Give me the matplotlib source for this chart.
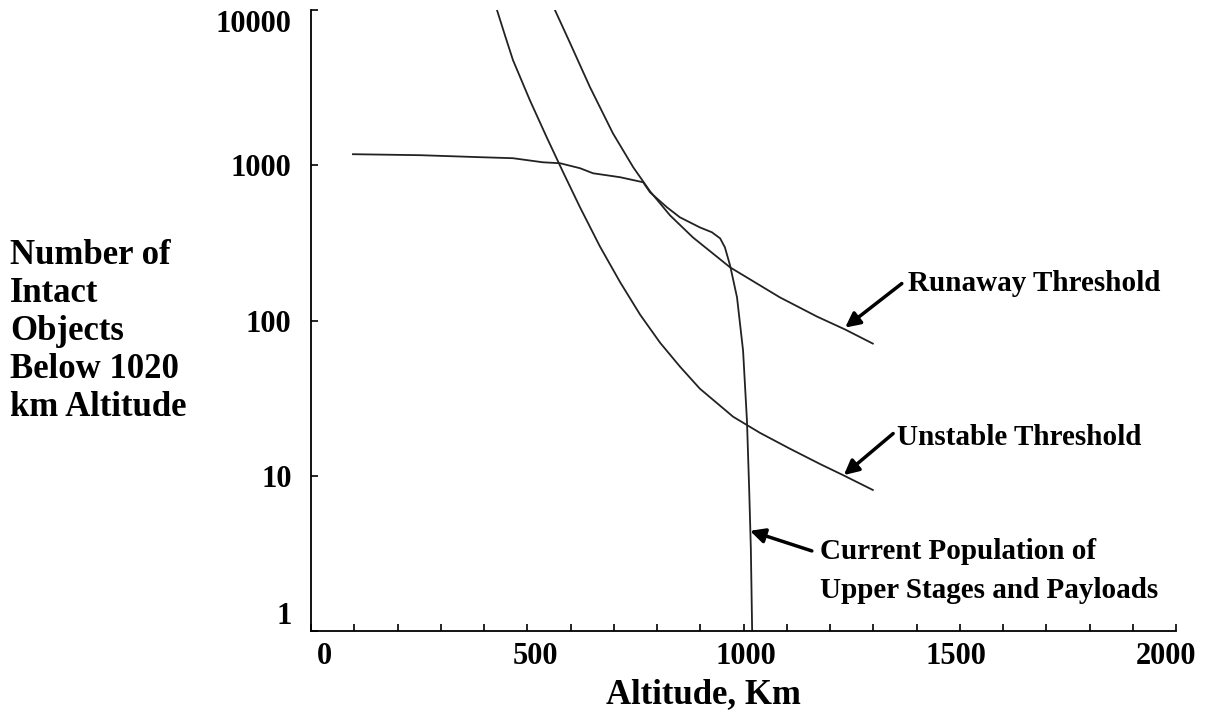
"""
Intact objects below 1020 km vs altitude, with runaway/unstable thresholds
"""

import matplotlib
matplotlib.use("Agg")
import matplotlib.pyplot as plt
from matplotlib.ticker import FixedLocator, MultipleLocator, NullFormatter

# current population of upper stages and payloads (km, count)
pop_alt = [97, 252, 391, 467, 536, 576, 622, 652, 715, 768, 784, 823, 853,
           899, 927, 946, 957, 969, 985, 999, 1008, 1013, 1017, 1020]
pop_num = [1178, 1161, 1127, 1110, 1045, 1030, 957, 888, 837, 777, 669, 536,
           462, 398, 370, 338, 296, 226, 141, 64, 22.6, 8.4, 3.4, 1.0]

# unstable threshold
uns_alt = [430, 449, 467, 506, 546, 583, 622, 668, 715, 761, 807, 853, 899,
           976, 1038, 1108, 1177, 1230, 1299]
uns_num = [10000, 6795, 4755, 2626, 1493, 901, 536, 300, 176, 109, 72, 50.5,
           36.4, 24.0, 18.9, 14.9, 11.9, 10.1, 8.1]

# runaway threshold
run_alt = [564, 599, 645, 698, 745, 784, 830, 883, 969, 1084, 1170, 1235, 1299]
run_num = [10000, 6124, 3186, 1607, 971, 679, 476, 343, 220, 141, 106, 87.5, 71]

x_ticks = [0, 500, 1000, 1500, 2000]
x_tick_labels = ["0", "500", "1000", "1500", "2000"]
x_label_shift = [10, 6, 2, -3, -7]   # points, labels sit slightly off the ticks
y_ticks = [1, 10, 100, 1000, 10000]
y_tick_labels = ["1", "10", "100", "1000", "10000"]

plt.rcParams["font.family"] = ["Liberation Serif", "DejaVu Serif"]
plt.rcParams["font.weight"] = "bold"

fig = plt.figure(figsize=(12.06, 7.15), dpi=100)
ax = fig.add_axes([311 / 1206, 1 - 631 / 715, 865 / 1206, 621 / 715])

line_kw = dict(color="#222222", lw=1.3)
ax.plot(pop_alt, pop_num, **line_kw)
ax.plot(uns_alt, uns_num, **line_kw)
ax.plot(run_alt, run_num, **line_kw)

ax.set_yscale("log")
ax.set_xlim(0, 2000)
ax.set_ylim(1, 10000)

ax.xaxis.set_major_locator(FixedLocator(x_ticks))
ax.xaxis.set_minor_locator(MultipleLocator(100))
ax.xaxis.set_major_formatter(NullFormatter())
ax.yaxis.set_major_locator(FixedLocator(y_ticks))
ax.yaxis.set_minor_locator(FixedLocator([]))
ax.set_yticklabels(y_tick_labels)

ax.tick_params(axis="both", which="both", direction="in", length=5,
               width=1.2, labelsize=22)
ax.tick_params(axis="y", pad=14)
for lab in ax.get_yticklabels():
    lab.set_fontweight("bold")
ylabs = ax.get_yticklabels()
ylabs[0].set_va("bottom")
ylabs[-1].set_va("top")

# x tick labels drawn by hand so they can sit a little off the ticks
for xv, lab, dx in zip(x_ticks, x_tick_labels, x_label_shift):
    ax.annotate(lab, xy=(xv, 0), xycoords=("data", "axes fraction"),
                xytext=(dx, -18), textcoords="offset points",
                ha="center", va="center", fontsize=22, fontweight="bold")

ax.spines["top"].set_visible(False)
ax.spines["right"].set_visible(False)
ax.spines["left"].set_linewidth(1.3)
ax.spines["bottom"].set_linewidth(1.3)

txt_kw = dict(fontsize=21, fontweight="bold", ha="left", va="center")
arr_kw = dict(arrowstyle="-|>", color="black", lw=2.5, mutation_scale=22,
              shrinkA=0, shrinkB=0)

ax.text(1380, 173, "Runaway Threshold", **txt_kw)
ax.annotate("", xy=(1235, 90), xytext=(1366, 173), arrowprops=arr_kw)

ax.text(1355, 17.6, "Unstable Threshold", **txt_kw)
ax.annotate("", xy=(1232, 10.1), xytext=(1346, 18.7), arrowprops=arr_kw)

ax.text(1177, 2.44, "Current Population of\nUpper Stages and Payloads",
        linespacing=1.55, **txt_kw)
ax.annotate("", xy=(1015, 4.42), xytext=(1158, 3.28), arrowprops=arr_kw)

fig.text(703 / 1206, 1 - 695 / 715, "Altitude, Km", fontsize=25,
         fontweight="bold", ha="center", va="center")
fig.text(10 / 1206, 1 - 331 / 715,
         "Number of\nIntact\nObjects\nBelow 1020\nkm Altitude",
         fontsize=25, fontweight="bold", ha="left", va="center",
         linespacing=1.2)

fig.savefig("out.png", dpi=100)
